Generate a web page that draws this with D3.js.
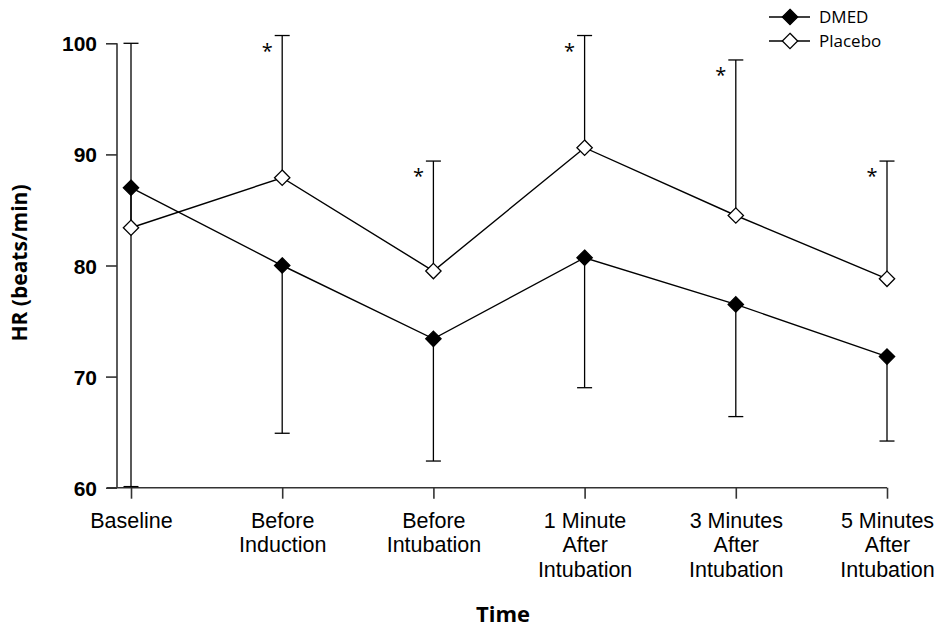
<!DOCTYPE html>
<html>
<head>
<meta charset="utf-8">
<script src="https://cdn.jsdelivr.net/npm/d3@7"></script>
<style>
  body { margin: 0; background: #fff; }
  svg { font-family: "Open Sans", "Lato", sans-serif; }
</style>
</head>
<body>
<svg id="chart" width="945" height="627"></svg>
<script>
// data
var times = [
    ["Baseline"],
    ["Before", "Induction"],
    ["Before", "Intubation"],
    ["1 Minute", "After", "Intubation"],
    ["3 Minutes", "After", "Intubation"],
    ["5 Minutes", "After", "Intubation"]
];
var dmed = [87.0, 80.0, 73.4, 80.7, 76.5, 71.8];
var dmedLow = [60.1, 64.9, 62.4, 69.0, 66.4, 64.2];
var placebo = [83.4, 87.9, 79.5, 90.6, 84.5, 78.8];
var placeboHigh = [100.0, 100.7, 89.4, 100.7, 98.5, 89.4];
var significant = [false, true, true, true, true, true];
var yTicks = [60, 70, 80, 90, 100];

var svg = d3.select("#chart");

var x = d3.scalePoint()
    .domain(d3.range(times.length))
    .range([131, 887]);
var y = d3.scaleLinear()
    .domain([60, 100])
    .range([487.7, 43.3]);

var g = svg.append("g");

// y axis
var yAxis = g.append("g")
    .attr("transform", "translate(117,0)")
    .call(d3.axisLeft(y).tickValues(yTicks).tickSize(11).tickPadding(9));
yAxis.select(".domain").attr("d", "M0," + y(100) + "V" + y(60));
yAxis.selectAll("line, path").attr("stroke", "#333").attr("stroke-width", 1.6);
yAxis.selectAll("text")
    .attr("font-size", "21px")
    .attr("font-weight", "bold")
    .attr("fill", "#000")
    .attr("dy", "0.36em");

// x axis
var xAxis = g.append("g")
    .attr("transform", "translate(0," + y(60) + ")")
    .call(d3.axisBottom(x).tickSize(11).tickFormat(""));
xAxis.select(".domain").attr("d", "M107,0H" + x(times.length - 1));
xAxis.selectAll("line, path").attr("stroke", "#333").attr("stroke-width", 1.6);
xAxis.selectAll(".tick").append("text")
    .attr("fill", "#000")
    .attr("font-size", "21.5px")
    .attr("text-anchor", "middle")
    .selectAll("tspan")
    .data(function(d) { return times[d]; })
    .enter().append("tspan")
    .attr("x", 0)
    .attr("y", function(d, i) { return 40 + i * 24.5; })
    .text(function(d) { return d; });

// axis titles
svg.append("text")
    .attr("x", 503)
    .attr("y", 622)
    .attr("text-anchor", "middle")
    .attr("font-size", "22px")
    .attr("font-weight", "bold")
    .text("Time");
svg.append("text")
    .attr("transform", "translate(27,263) rotate(-90)")
    .attr("text-anchor", "middle")
    .attr("font-size", "21px")
    .attr("font-weight", "bold")
    .text("HR (beats/min)");

// error bars
function errorBars(tips, vals) {
    var eb = g.append("g").attr("stroke", "#000").attr("stroke-width", 1.3);
    eb.selectAll(".bar")
        .data(tips)
        .enter().append("line")
        .attr("x1", function(d, i) { return x(i); })
        .attr("x2", function(d, i) { return x(i); })
        .attr("y1", function(d, i) { return y(vals[i]); })
        .attr("y2", function(d) { return y(d); });
    eb.selectAll(".cap")
        .data(tips)
        .enter().append("line")
        .attr("x1", function(d, i) { return x(i) - 7.5; })
        .attr("x2", function(d, i) { return x(i) + 7.5; })
        .attr("y1", function(d) { return y(d); })
        .attr("y2", function(d) { return y(d); });
}
errorBars(dmedLow, dmed);
errorBars(placeboHigh, placebo);

// lines
var line = d3.line()
    .x(function(d, i) { return x(i); })
    .y(function(d) { return y(d); });
[dmed, placebo].forEach(function(s) {
    g.append("path")
        .datum(s)
        .attr("d", line)
        .attr("fill", "none")
        .attr("stroke", "#000")
        .attr("stroke-width", 1.4);
});

// markers
var diamond = d3.symbol().type(d3.symbolDiamond2).size(150);
function markers(s, fill) {
    g.selectAll(null)
        .data(s)
        .enter().append("path")
        .attr("d", diamond)
        .attr("transform", function(d, i) { return "translate(" + x(i) + "," + y(d) + ")"; })
        .attr("fill", fill)
        .attr("stroke", "#000")
        .attr("stroke-width", 1.3);
}
markers(dmed, "#000");
markers(placebo, "#fff");

// significance stars
var starIdx = d3.range(times.length).filter(function(i) { return significant[i]; });
g.selectAll(".star")
    .data(starIdx)
    .enter().append("text")
    .attr("class", "star")
    .attr("x", function(i) { return x(i) - 15; })
    .attr("y", function(i) { return y(placeboHigh[i]) + 22; })
    .attr("text-anchor", "middle")
    .attr("fill", "#000")
    .attr("font-size", "20px")
    .text("*");

// legend
var legend = svg.append("g").attr("transform", "translate(769,17)");
var legendItems = [["DMED", "#000"], ["Placebo", "#fff"]];
var li = legend.selectAll("g")
    .data(legendItems)
    .enter().append("g")
    .attr("transform", function(d, i) { return "translate(0," + i * 24 + ")"; });
li.append("line")
    .attr("x1", 0).attr("x2", 41)
    .attr("stroke", "#000").attr("stroke-width", 1.3);
li.append("path")
    .attr("d", diamond)
    .attr("transform", "translate(21,0)")
    .attr("fill", function(d) { return d[1]; })
    .attr("stroke", "#000")
    .attr("stroke-width", 1.3);
li.append("text")
    .attr("x", 50)
    .attr("dy", "0.35em")
    .attr("font-size", "17px")
    .text(function(d) { return d[0]; });
</script>
</body>
</html>
